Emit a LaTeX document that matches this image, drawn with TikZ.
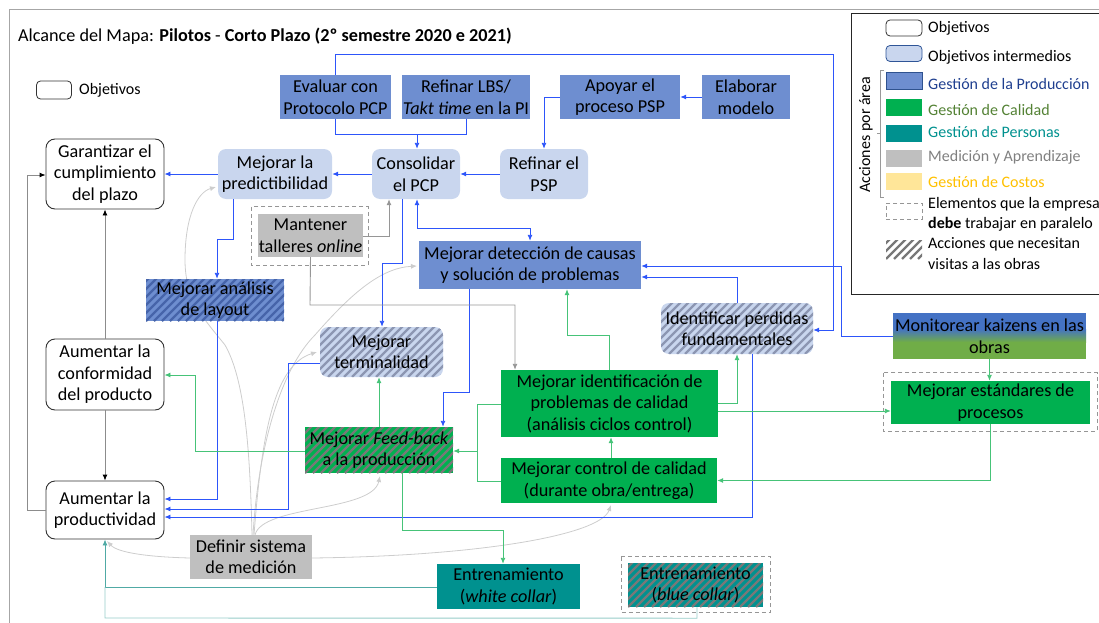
\documentclass[tikz,border=0pt]{standalone}
\usepackage{fontspec}
\setmainfont{Carlito}
\usetikzlibrary{arrows.meta,calc}

\definecolor{prodblue}{RGB}{110,142,208}
\definecolor{interblue}{RGB}{201,214,238}
\definecolor{qgreen}{RGB}{0,176,80}
\definecolor{pteal}{RGB}{0,145,143}
\definecolor{mgray}{RGB}{191,191,191}
\definecolor{cyellow}{RGB}{255,230,153}
\definecolor{lblue}{RGB}{45,85,250}
\definecolor{lgreen}{RGB}{70,195,120}
\definecolor{lteal}{RGB}{80,170,165}
\definecolor{lteallight}{RGB}{150,205,200}
\definecolor{lgray}{RGB}{150,150,150}
\definecolor{cgray}{RGB}{205,205,205}
\definecolor{kblue}{RGB}{68,114,196}
\definecolor{kgreen}{RGB}{112,173,71}
\definecolor{hgray}{RGB}{120,120,120}
\definecolor{hblue}{RGB}{140,150,178}
\definecolor{hdblue}{RGB}{70,100,170}

\tikzset{
  tip/.style={-{Latex[length=6pt,width=5pt]}},
  box/.style={inner sep=0pt, align=center, anchor=center},
  objbox/.style={box, draw=black!80, line width=0.9pt, rounded corners=9pt, fill=white},
  interbox/.style={box, fill=interblue, rounded corners=8pt},
  prodbox/.style={box, fill=prodblue},
  qualbox/.style={box, fill=qgreen},
  persbox/.style={box, fill=pteal},
  measbox/.style={box, fill=mgray},
  hatched/.style={path picture={
      \foreach \k in {-80,-72,...,232}
        \draw[#1, line width=2.2pt]
          ($(path picture bounding box.south west)+(\k pt,0pt)$) -- ++(90pt,90pt);}},
  dashbox/.style={draw=lgray, dashed, dash pattern=on 4pt off 3pt, line width=1.1pt},
  bl/.style={draw=lblue, line width=0.9pt, tip},
  bln/.style={draw=lblue, line width=0.9pt},
  gr/.style={draw=lgreen, line width=0.9pt, tip},
  grn/.style={draw=lgreen, line width=0.9pt},
  te/.style={draw=lteal, line width=0.9pt, tip},
  gy/.style={draw=lgray, line width=0.9pt, tip},
  gyn/.style={draw=lgray, line width=0.9pt},
  bk/.style={draw=black!45, line width=0.9pt, -{Latex[length=6pt,width=5pt,color=black]}},
  cv/.style={draw=cgray, line width=0.8pt, tip},
  legtext/.style={anchor=west, inner sep=0pt, font=\fontsize{16}{19}\selectfont},
  legsw/.style={box, minimum width=36pt, minimum height=17pt},
}

\begin{document}
\begin{tikzpicture}[x=1pt, y=-1pt, font=\fontsize{18.2}{21.5}\selectfont]
\useasboundingbox (0,0) rectangle (1099,623);
\clip (0,0) rectangle (1099,623);

% outer frame
\draw[draw=black!35, line width=1pt] (1105,10) -- (9,10) -- (9,630);

% title
\node[anchor=west, inner sep=0pt] (title) at (18,36)
  {Alcance del Mapa: \textbf{Pilotos} - \textbf{Corto Plazo (2º semestre 2020 e 2021)}};

% small key
\node[objbox, rounded corners=4pt, minimum width=35pt, minimum height=18pt, line width=0.8pt] (keyobj) at (54,90) {};
\node[legtext] (keyobjt) at (79,90) {Objetivos};

% measurement curves (behind boxes)
\draw[cv] (252,535) .. controls (250,450) and (245,380) .. (225,345)
                    .. controls (205,320) and (185,300) .. (185,260)
                    .. controls (185,215) and (198,192) .. (216,187);
\draw[cv] (253,535) .. controls (258,450) and (280,370) .. (315,335)
                    .. controls (350,295) and (380,268) .. (417,266);
\draw[cv] (254,535) .. controls (262,430) and (275,365) .. (317,352);
\draw[cv] (255,535) .. controls (262,505) and (372,512) .. (380,476);
\draw[cv] (312,558) .. controls (480,556) and (600,535) .. (611,505);
\draw[cv] (190,558) .. controls (150,557) and (118,553) .. (107,541);

% objectives
\node[objbox, minimum width=118pt, minimum height=70pt] (gar) at (105,174) {Garantizar el\\cumplimiento\\del plazo};
\node[objbox, minimum width=118pt, minimum height=71pt] (conf) at (105,374.5) {Aumentar la\\conformidad\\del producto};
\node[objbox, minimum width=118pt, minimum height=58pt] (prod) at (105,510) {Aumentar la\\productividad};

% intermediate objectives
\node[interbox, minimum width=114pt, minimum height=50pt] (pred) at (275,174) {Mejorar la\\predictibilidad};
\node[interbox, minimum width=88pt, minimum height=50pt] (cons) at (416,174) {Consolidar\\el PCP};
\node[interbox, minimum width=88pt, minimum height=50pt] (rpsp) at (544,174) {Refinar el\\PSP};
\node[interbox, hatched=hblue, minimum width=123pt, minimum height=50pt] (term) at (381.5,352) {Mejorar\\terminalidad};
\node[interbox, hatched=hblue, minimum width=152pt, minimum height=51pt] (ident) at (737,328.5) {Identificar pérdidas\\fundamentales};

% production management
\node[prodbox, minimum width=111pt, minimum height=44pt] (eval) at (335.5,97) {Evaluar con\\Protocolo PCP};
\node[prodbox, minimum width=128pt, minimum height=44pt] (lbs) at (466,97) {Refinar LBS/\\\textit{Takt time} en la PI};
\node[prodbox, minimum width=120pt, minimum height=44pt] (apoyar) at (620,97) {Apoyar el\\proceso PSP};
\node[prodbox, minimum width=88pt, minimum height=44pt] (elab) at (746,97) {Elaborar\\modelo};
\node[prodbox, hatched=hdblue, minimum width=138pt, minimum height=42pt] (layout) at (215,300) {Mejorar análisis\\de layout};
\node[prodbox, minimum width=222pt, minimum height=48pt] (det) at (530,265) {Mejorar detección de causas\\y solución de problemas};

% monitoring (production / quality)
\fill[kblue] (893,313) rectangle (1086,329);
\shade[top color=kblue, bottom color=kgreen] (893,329) rectangle (1086,342);
\fill[kgreen] (893,342) rectangle (1086,359);
\node[box, minimum width=193pt, minimum height=46pt] (monit) at (989.5,336) {Monitorear kaizens en las\\obras};

% quality management
\node[qualbox, minimum width=217pt, minimum height=67pt] (iden) at (609.5,403.5) {Mejorar identificación de\\problemas de calidad\\(análisis ciclos control)};
\node[qualbox, minimum width=216pt, minimum height=45pt] (ctrl) at (609,480.5) {Mejorar control de calidad\\(durante obra/entrega)};
\node[qualbox, minimum width=199pt, minimum height=43pt] (est) at (990.5,402.5) {Mejorar estándares de\\procesos};
\node[qualbox, hatched=hgray, minimum width=148pt, minimum height=46pt] (feed) at (379,450) {Mejorar \textit{Feed-back}\\a la producción};

% people management
\node[persbox, minimum width=143pt, minimum height=45pt] (ewc) at (508.5,586.5) {Entrenamiento\\(\textit{white collar})};
\node[persbox, hatched=hgray, minimum width=135pt, minimum height=44pt] (ebc) at (695.5,585) {Entrenamiento\\(\textit{blue collar})};

% measurement and learning
\node[measbox, minimum width=105pt, minimum height=43pt] (mant) at (310.5,235.5) {Mantener\\talleres \textit{online}};
\node[measbox, minimum width=122pt, minimum height=44pt] (def) at (251,557) {Definir sistema\\de medición};

% parallel-work frames
\draw[dashbox] ([shift={(-6,-7)}]mant.north west) rectangle ([shift={(5,8)}]mant.south east);
\draw[dashbox] ([shift={(-7,-8)}]est.north west) rectangle ([shift={(7,7)}]est.south east);
\draw[dashbox] ([shift={(-6.5,-6)}]ebc.north west) rectangle ([shift={(7.5,5)}]ebc.south east);

% blue connectors
\draw[bl] (pred.west) -- (gar.east);
\draw[bl] (cons.west) -- (pred.east);
\draw[bl] (rpsp.west) -- (cons.east);
\draw[bl] (elab.west) -- (apoyar.east);
\draw[bl] (apoyar.west) -| (rpsp.north);
\draw[bln] (eval.south) -- (eval.south |- 0,134) -- (lbs.south |- 0,134) -- (lbs.south);
\draw[bl] (417,134) -- (cons.north -| 417,0);
\draw[bl] (eval.north) -- (eval.north |- 0,54) -- (833,54) -- (833,330) -- (ident.east |- 0,330);
\draw[bl] (pred.south -| 233,0) -- (233,239) -- (217,239) -- (layout.north -| 217,0);
\draw[bl] (cons.south -| 402,0) -- (402,263) -- (382,263) -- (term.north -| 382,0);
\draw[draw=lblue, line width=0.9pt, {Latex[length=6pt,width=5pt]}-{Latex[length=6pt,width=5pt]}]
  (cons.south -| 417,0) -- (417,228) -- (det.north |- 0,228) -- (det.north);
\draw[bl] (det.south -| 469,0) -- (469,392) -- (443,392) -- (feed.north -| 443,0);
\draw[bl] (ident.north) |- (det.east |- 0,277);
\draw[bl] (monit.west) -- (841,336) -- (841,266) -- (det.east |- 0,266);
\draw[bl] (ident.south -| 752,0) |- (prod.east |- 0,517);
\draw[bl] (layout.south -| 217,0) |- (prod.east |- 0,499);
\draw[bl] (term.west |- 0,363) -- (288,363) |- (prod.east |- 0,509);

% green connectors
\draw[gr] (iden.north) -- (iden.north |- 0,335) -- (567,335) -- (det.south -| 567,0);
\draw[gr] (iden.east |- 0,403) -| (ident.south);
\draw[gr] (iden.east |- 0,411) -- (est.west |- 0,411);
\draw[gr] (monit.south) -- (monit.south |- est.north);
\draw[gr] (est.south) |- (ctrl.east);
\draw[gr] (ctrl.north -| 611,0) -- (iden.south -| 611,0);
\draw[grn] (iden.west |- 0,404) -- (477,404) -- (477,481) -- (ctrl.west |- 0,481);
\draw[gr] (477,451) -- (feed.east |- 0,451);
\draw[gr] (feed.north -| 379,0) -- (term.south -| 379,0);
\draw[gr] (feed.west |- 0,451) -- (195,451) |- (conf.east |- 0,375);
\draw[gr] (feed.south -| 402,0) -- (402,530) -- (503,530) -- (ewc.north -| 503,0);

% people connectors
\draw[te] (ewc.west |- 0,587) -| (prod.south);
\draw[draw=lteallight, line width=0.9pt] (ebc.south -| 697,0) -- ++(0,11) -- (105,618) -- (105,587);

% measurement connectors
\draw[gy] (mant.east |- 0,236) -- (389,236) -- (cons.south -| 389,0);
\draw[gy] (mant.south) -- (310,305) -- (515,305) -- (iden.north -| 515,0);

% objective links
\draw[bk] (conf.north) -- (gar.south);
\draw[bk] (conf.south) -- (prod.north);
\draw[bk] (prod.west) -- (27,510) -- (27,175) -- (gar.west |- 0,175);

% legend
\draw[black!85, line width=1pt] (1105,14) -- (851,14) -- (851,294) -- (1105,294);
\node[objbox, rounded corners=4pt, line width=0.8pt, minimum width=36pt, minimum height=16pt] (lg1) at (904,28) {};
\node[legtext] (lg1t) at (928,28) {Objetivos};
\node[legsw, fill=interblue, draw={rgb,255:red,47;green,85;blue,151}, rounded corners=4pt, line width=0.8pt, minimum height=16pt] (lg2) at (904,53.5) {};
\node[legtext] (lg2t) at (928,57) {Objetivos intermedios};
\node[legsw, fill=prodblue, draw={rgb,255:red,47;green,82;blue,143}, line width=0.8pt] (lg3) at (904,81) {};
\node[legtext, text={rgb,255:red,31;green,63;blue,143}] (lg3t) at (928,84) {Gestión de la Producción};
\node[legsw, fill=qgreen] (lg4) at (904,108) {};
\node[legtext, text={rgb,255:red,84;green,130;blue,53}] (lg4t) at (928,110) {Gestión de Calidad};
\node[legsw, fill=pteal] (lg5) at (904,133) {};
\node[legtext, text=pteal] (lg5t) at (928,132) {Gestión de Personas};
\node[legsw, fill=mgray] (lg6) at (904,158) {};
\node[legtext, text=black!50] (lg6t) at (928,157) {Medición y Aprendizaje};
\node[legsw, fill=cyellow] (lg7) at (904,181) {};
\node[legtext, text={rgb,255:red,255;green,192;blue,0}] (lg7t) at (928,182) {Gestión de Costos};
\node[legsw, dashbox, line width=0.8pt, minimum height=16pt] (lg8) at (904,211) {};
\node[legtext] (lg8t) at (928,204) {Elementos que la empresa};
\node[legtext] (lg8u) at (928,224) {\textbf{debe} trabajar en paralelo};
\node[legsw, hatched=hgray, minimum height=19pt] (lg9) at (904,249.5) {};
\node[legtext] (lg9t) at (928,244) {Acciones que necesitan};
\node[legtext] (lg9u) at (928,264) {visitas a las obras};
\node[inner sep=0pt, rotate=90, font=\fontsize{16}{19}\selectfont] (acc) at (866,135) {Acciones por área};
\draw[draw=black!40, line width=0.8pt] (884,70) -- (880.5,70) -- (880.5,197) -- (884,197);
\draw[draw=black!40, line width=0.8pt] (880.5,133) -- (877,133);
\end{tikzpicture}
\end{document}
